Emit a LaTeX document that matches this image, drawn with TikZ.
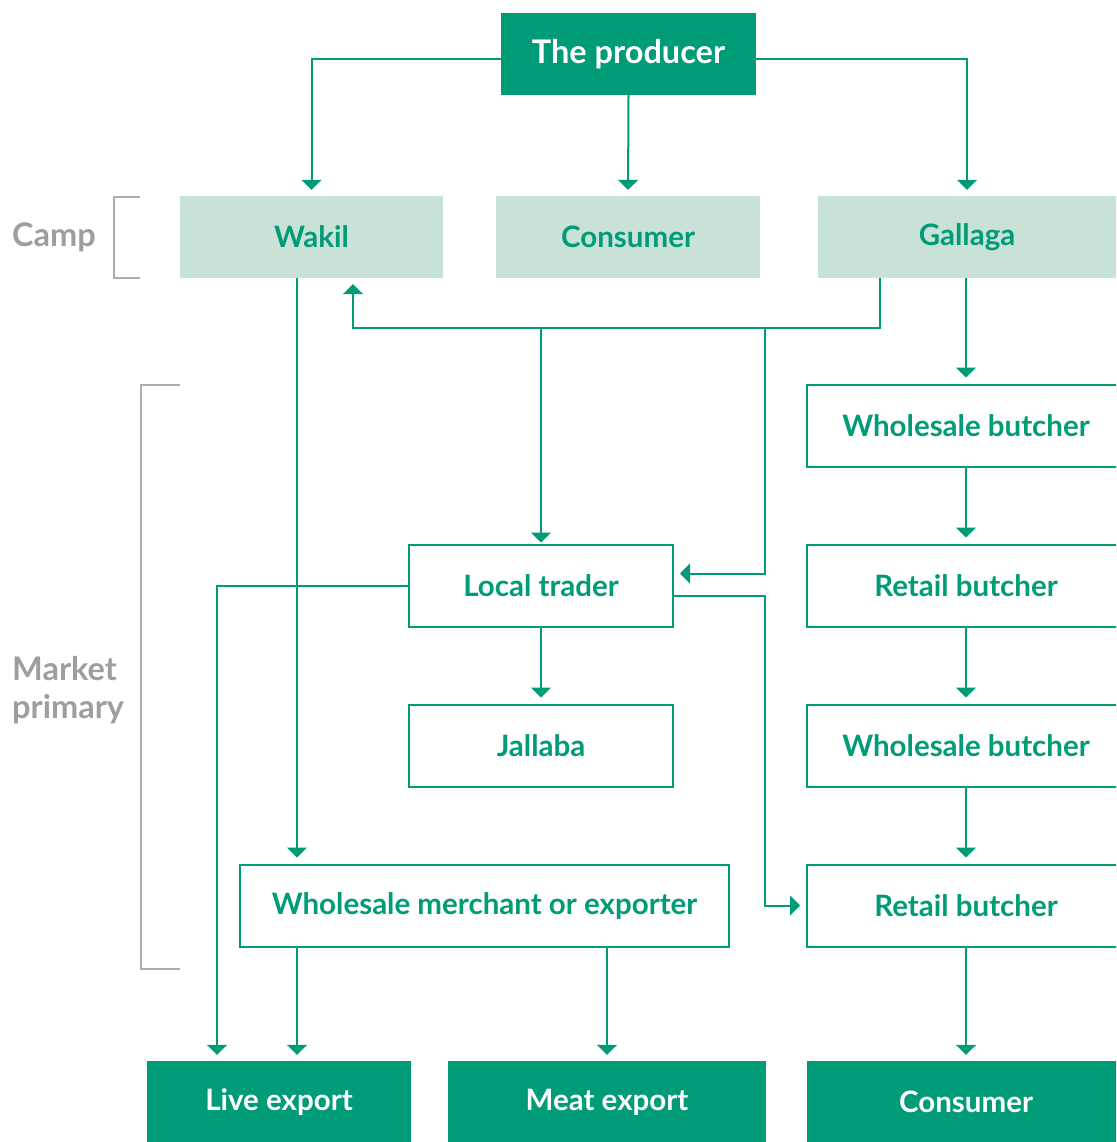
\documentclass[tikz,border=0pt]{standalone}
\usepackage{fontspec}
\setmainfont{Lato}
\usepackage{tikz}
\usetikzlibrary{arrows.meta,positioning}

\definecolor{leafgreen}{HTML}{009B77}
\definecolor{paleleaf}{HTML}{C9E2D8}
\definecolor{labelgray}{HTML}{9E9E9E}

\newcommand{\boxfont}{\bfseries\fontsize{29.5}{34}\selectfont}
\newcommand{\bigboxfont}{\bfseries\fontsize{32.5}{38}\selectfont}

\tikzset{
    darkbox/.style={rectangle, fill=leafgreen, text=white, font=\boxfont, minimum height=82pt, inner sep=0pt},
    campbox/.style={rectangle, fill=paleleaf, text=leafgreen, font=\boxfont, minimum height=82pt, inner sep=0pt},
    linebox/.style={rectangle, draw=leafgreen, line width=2pt, fill=white, text=leafgreen, font=\boxfont, minimum height=82pt, inner sep=0pt},
    flow/.style={draw=leafgreen, line width=2pt, -{Triangle[width=20pt,length=10pt]}, shorten >=6pt},
    bracket/.style={draw=labelgray!85, line width=2pt},
    side/.style={text=labelgray, font=\bigboxfont, align=left, anchor=west, inner sep=0pt}
}

\begin{document}
\begin{tikzpicture}[x=1pt, y=-1pt]
    \path[use as bounding box, clip] (0,0) rectangle (1116,1142);

    % Top: the producer
    \node[darkbox, font=\bigboxfont, minimum width=255pt] (producer) at (628.5,54) {The producer};

    % Camp level
    \node[campbox, minimum width=263pt] (wakil) at (311.5,237) {Wakil};
    \node[campbox, minimum width=264pt] (campconsumer) at (628,237) {Consumer};
    \node[campbox, minimum width=298pt] (gallaga) at (967,237) {Gallaga};

    % Primary market
    \node[linebox, minimum width=264pt] (localtrader) at (541,585.5) {Local trader};
    \node[linebox, minimum width=264pt] (jallaba) at (541,745.5) {Jallaba};
    \node[linebox, minimum width=489pt] (merchant) at (484.5,905.5) {Wholesale merchant or exporter};

    \node[linebox, minimum width=318pt] (wholesaleone) at (966,425.5) {Wholesale butcher};
    \node[linebox, minimum width=318pt] (retailone) at (966,585.5) {Retail butcher};
    \node[linebox, minimum width=318pt] (wholesaletwo) at (966,745.5) {Wholesale butcher};
    \node[linebox, minimum width=318pt] (retailtwo) at (966,905.5) {Retail butcher};

    % Outlets
    \node[darkbox, minimum width=264pt] (liveexport) at (279,1102) {Live export};
    \node[darkbox, minimum width=318pt] (meatexport) at (607,1102) {Meat export};
    \node[darkbox, minimum width=318pt] (consumer) at (966,1102) {Consumer};

    % Level labels and brackets
    \node[side] (camp) at (12,237) {Camp};
    \node[side] (market) at (12,690) {Market\\primary};
    \draw[bracket] (140,197) -- (114,197) -- (114,278) -- (140,278);
    \draw[bracket] (180,385) -- (141,385) -- (141,969) -- (180,969);

    % From the producer
    \draw[flow] ([yshift=-5pt]producer.west) -| (wakil.north);
    \draw[flow] (producer.south) -- (campconsumer.north);
    \draw[flow] ([yshift=-5pt]producer.east) -| (gallaga.north);

    % From Gallaga
    \coordinate (split) at (765,328);
    \draw[flow] ([xshift=-87pt]gallaga.south) |- (split) -| ([xshift=41.5pt]wakil.south);
    \draw[flow, shorten >=1pt] (localtrader.north |- split) -- (localtrader.north);
    \draw[flow] (split) |- ([yshift=12pt]localtrader.east);
    \draw[flow] (gallaga.south -| wholesaleone.north) -- (wholesaleone.north);

    % From Wakil
    \draw[flow] ([xshift=-14.5pt]wakil.south) -- ([xshift=-14.5pt]wakil.south |- merchant.north);

    % From the local trader
    \draw[flow] (localtrader.south) -- (jallaba.north);
    \draw[flow] (localtrader.west) -| ([xshift=-62pt]liveexport.north);
    \draw[flow] ([yshift=-10pt]localtrader.east) -| (split |- retailtwo.west) -- (retailtwo.west);

    % Butcher chain
    \draw[flow] (wholesaleone) -- (retailone);
    \draw[flow] (retailone) -- (wholesaletwo);
    \draw[flow] (wholesaletwo) -- (retailtwo);
    \draw[flow] (retailtwo) -- (consumer);

    % Exports
    \draw[flow] ([xshift=-14.5pt]wakil.south |- merchant.south) -- ([xshift=-14.5pt]wakil.south |- liveexport.north);
    \draw[flow] (meatexport.north |- merchant.south) -- (meatexport.north);
\end{tikzpicture}
\end{document}
